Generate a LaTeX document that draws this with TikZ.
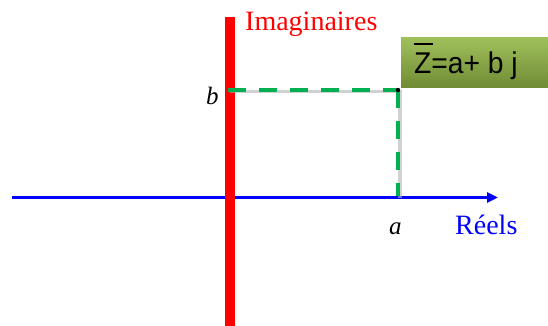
\documentclass[tikz,border=0pt]{standalone}
\usepackage{fontspec}
\setmainfont{Liberation Serif}
\newfontfamily\boxfont{Liberation Sans}
\usetikzlibrary{arrows.meta}
\definecolor{axisblue}{RGB}{0,0,255}
\definecolor{axisred}{RGB}{255,0,0}
\definecolor{dashgreen}{RGB}{0,176,80}
\definecolor{boxtop}{RGB}{160,192,92}
\definecolor{boxbot}{RGB}{112,140,52}
\tikzset{
  realaxis/.style={draw=axisblue, line width=3pt, -{Triangle[length=11pt,width=10pt]}},
  imagaxis/.style={draw=axisred, line width=10pt},
  proj/.style={draw=dashgreen, line width=4.5pt, dash pattern=on 18pt off 13pt},
  projshadow/.style={draw=gray!60, line width=3.5pt, opacity=0.6},
  lbl/.style={inner sep=0pt, anchor=base west},
  zbox/.style={rectangle, inner sep=0pt, top color=boxtop, bottom color=boxbot,
               minimum width=150pt, minimum height=50pt, anchor=north west}
}
\begin{document}
\begin{tikzpicture}[x=1pt,y=1pt]
\useasboundingbox (0,0) rectangle (548,326);
% coordinates
\coordinate (xs) at (12,128.5);
\coordinate (xe) at (498,128.5);
\coordinate (ybot) at (229.5,-2);
\coordinate (ytop) at (229.5,309);
\coordinate (B) at (228,236);
\coordinate (P) at (398,236);
\coordinate (A) at (398,129.5);
% axes
\draw[realaxis] (xs) -- (xe);
\draw[imagaxis] (ybot) -- (ytop);
% shadows of projections
\draw[projshadow] ([shift={(2,-1.5)}]B) -- ([shift={(2,-1.5)}]P) -- ([shift={(2,-1.5)}]A);
% projections
\draw[proj] (B) -- (P);
\draw[proj] (P) -- (A);
\fill (P) circle (2.2pt);
% box
\node[zbox] (zb) at (401,289) {};
\node[lbl, font=\boxfont\fontsize{30}{30}\selectfont, xscale=0.94, anchor=base west] (zt) at (414,252)
  {\makebox[0pt][l]{\raisebox{28.5pt}{\rule{20pt}{2.2pt}}}Z=a+ b j};
% labels
\node[lbl, text=axisred, font=\fontsize{28}{28}\selectfont] (im) at (245,295.5) {Imaginaires};
\node[lbl, font=\fontsize{25}{25}\selectfont\itshape] (lb) at (206,221) {b};
\node[lbl, font=\fontsize{25}{25}\selectfont\itshape] (la) at (389,91) {a};
\node[lbl, text=axisblue, font=\fontsize{28}{28}\selectfont] (re) at (455,91) {Réels};
\end{tikzpicture}
\end{document}
